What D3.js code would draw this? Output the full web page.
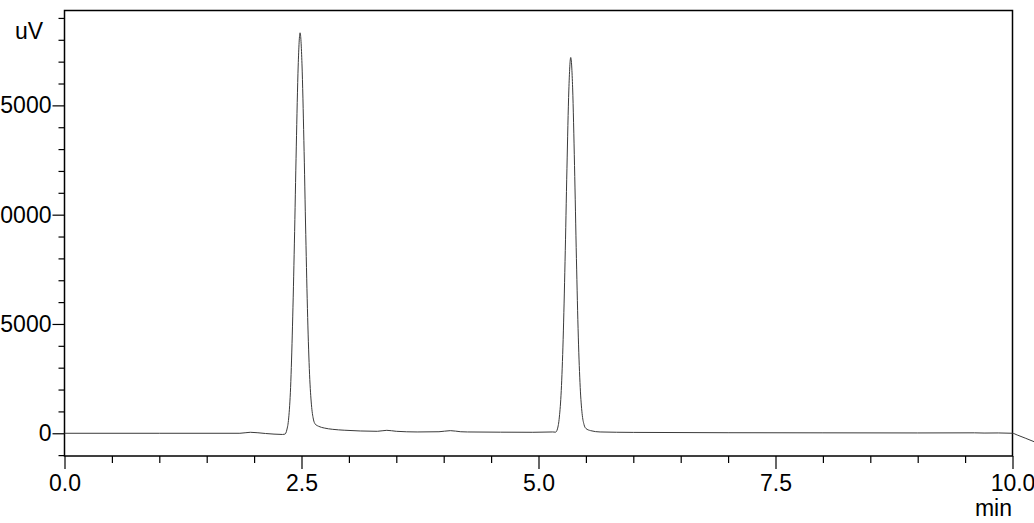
<!DOCTYPE html>
<html>
<head>
<meta charset="utf-8">
<script src="https://cdn.jsdelivr.net/npm/d3@7"></script>
<style>
  html, body { margin: 0; padding: 0; background: #fff; }
  svg { display: block; }
  text { font-family: Arial, "Liberation Sans", sans-serif; font-size: 23px; fill: #000; }
</style>
</head>
<body>
<div id="chart-holder"></div>
<script>
// Chromatogram trace (time in min, signal in uV)
const times = [
  0.0, 1.0, 1.85, 1.96, 2.12, 2.30, 2.325, 2.345, 2.365, 2.385, 2.405, 2.425, 2.445, 2.465,
  2.485,
  2.505, 2.525, 2.545, 2.565, 2.585, 2.605, 2.625, 2.645, 2.68, 2.74, 2.83, 2.95, 3.12, 3.30,
  3.40, 3.50, 3.72, 3.95, 4.07, 4.18, 4.25, 4.60, 4.94, 5.15,
  5.18, 5.20, 5.22, 5.24, 5.26, 5.28, 5.30, 5.32,
  5.34,
  5.36, 5.38, 5.40, 5.42, 5.44, 5.46, 5.48, 5.50, 5.55, 5.65,
  6.0, 7.0, 8.0, 9.0, 9.6, 9.7, 9.85, 10.0, 10.05, 10.23
];
const signal = [
  0, 0, 0, 45, -10, -55, -40, 150, 700, 2100, 4900, 8700, 13100, 16800,
  18320,
  16900, 13400, 9100, 5300, 2700, 1300, 650, 420, 320, 240, 180, 140, 105, 90,
  135, 90, 60, 70, 120, 70, 60, 50, 45, 60,
  50, 200, 740, 1950, 4300, 7850, 12100, 15700,
  17190,
  15800, 12250, 8000, 4400, 2100, 900, 400, 220, 120, 60,
  40, 25, 20, 15, 20, 10, 15, 0, -80, -390
];

const xTicksMajor = [0, 2.5, 5, 7.5, 10];
const xTicksMinor = [0.5, 1, 1.5, 2, 3, 3.5, 4, 4.5, 5.5, 6, 6.5, 7, 8, 8.5, 9, 9.5];
const yTicksMajor = [0, 5000, 10000, 15000];
const yTicksMinor = [-1000, 1000, 2000, 3000, 4000, 6000, 7000, 8000, 9000,
  11000, 12000, 13000, 14000, 16000, 17000, 18000, 19000];

const width = 1034;
const height = 523;
const plot = { left: 64.5, top: 10.5, right: 1012.5, bottom: 456 };

const svg = d3.select("#chart-holder")
  .append("svg")
  .attr("width", width)
  .attr("height", height);

const x = d3.scaleLinear().domain([0, 10]).range([plot.left, plot.right]);
const y = d3.scaleLinear().domain([-1040, 19340]).range([plot.bottom, plot.top]);

// y axis ticks
svg.append("g")
  .attr("transform", `translate(${plot.left},0)`)
  .call(d3.axisLeft(y).tickValues(yTicksMinor).tickSize(6).tickFormat(""))
  .call(g => g.select(".domain").remove());

svg.append("g")
  .attr("transform", `translate(${plot.left},0)`)
  .call(d3.axisLeft(y).tickValues(yTicksMajor).tickSize(12).tickPadding(1).tickFormat(d3.format("d")))
  .call(g => g.select(".domain").remove())
  .call(g => g.selectAll("text").attr("font-size", null).attr("font-family", null));

// x axis ticks
svg.append("g")
  .attr("transform", `translate(0,${plot.bottom})`)
  .call(d3.axisBottom(x).tickValues(xTicksMinor).tickSize(7).tickFormat(""))
  .call(g => g.select(".domain").remove());

svg.append("g")
  .attr("transform", `translate(0,${plot.bottom})`)
  .call(d3.axisBottom(x).tickValues(xTicksMajor).tickSize(13).tickPadding(6).tickFormat(d3.format(".1f")))
  .call(g => g.select(".domain").remove())
  .call(g => g.selectAll("text").attr("font-size", null).attr("font-family", null));

svg.selectAll(".tick line").attr("stroke", "#000").attr("stroke-width", 1.2);

// frame
svg.append("rect")
  .attr("x", plot.left)
  .attr("y", plot.top)
  .attr("width", plot.right - plot.left)
  .attr("height", plot.bottom - plot.top)
  .attr("fill", "none")
  .attr("stroke", "#000")
  .attr("stroke-width", 1.5);

// the trace (not clipped: it runs past 10 min in the original)
const points = times.map((t, i) => [t, signal[i]]);
const line = d3.line()
  .x(d => x(d[0]))
  .y(d => y(d[1]))
  .curve(d3.curveMonotoneX);

svg.append("path")
  .datum(points)
  .attr("d", line)
  .attr("fill", "none")
  .attr("stroke", "#3a3a3a")
  .attr("stroke-width", 1);

// unit labels
svg.append("text")
  .attr("x", 15)
  .attr("y", 39)
  .text("uV");

svg.append("text")
  .attr("x", 1012)
  .attr("y", 516)
  .attr("text-anchor", "end")
  .text("min");
</script>
</body>
</html>
